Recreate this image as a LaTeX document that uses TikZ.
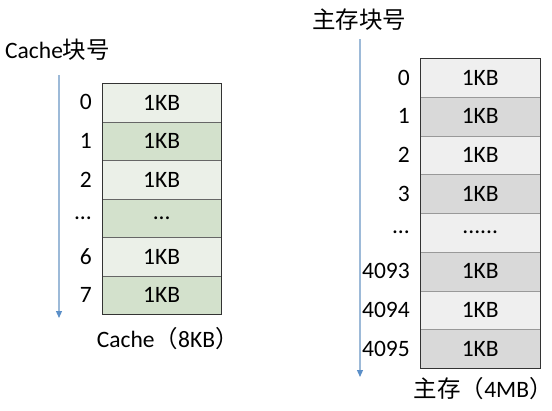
\documentclass[tikz,border=0pt]{standalone}
\usepackage{fontspec}
\setmainfont{Carlito}
\newfontfamily\cjk{Noto Sans CJK SC}
\usetikzlibrary{positioning,arrows.meta}
\definecolor{cachelight}{HTML}{EBF0E8}
\definecolor{cachedark}{HTML}{D3E1CC}
\definecolor{memlight}{HTML}{EFEFEF}
\definecolor{memdark}{HTML}{D9D9D9}
\definecolor{axisblue}{HTML}{9DBAD8}
\definecolor{tipblue}{HTML}{5B8FC8}
\newcommand\blockdots{...}
\newcommand\blockdotslong{......}

\begin{document}
\begin{tikzpicture}[x=1pt,y=-1pt,
    font=\fontsize{23.5}{26}\selectfont,
    cell/.style={draw=black!60, minimum width=119pt, minimum height=38.5pt,
      inner sep=0pt, anchor=north west},
    idx/.style={inner sep=0pt},
    axis/.style={axisblue, line width=1.2pt,
      -{Triangle[length=7pt,width=6pt,color=tipblue]}}]
    \useasboundingbox (0,0) rectangle (552,410);

    % Cache blocks
    \foreach \num/\txt [count=\i] in {0/1KB,1/1KB,2/1KB,\blockdots/\blockdots,6/1KB,7/1KB} {
        \ifodd\i \def\cellcol{cachelight}\else \def\cellcol{cachedark}\fi
        \node[cell, fill=\cellcol] (c\i) at (102,{83+(\i-1)*38.5}) {\txt};
        \node[idx, left=10pt of c\i] (cn\i) {\num};
    }
    \draw[black!80, line width=0.8pt] (c1.north west) rectangle (c6.south east);
    \node[anchor=west, inner sep=0pt] (ctitle) at (5,50) {Cache{\cjk 块号}};
    \node[idx, below=13pt of c6, xshift=6pt] (ccap) {Cache{\cjk （}8KB{\cjk ）}};

    % Cache index axis
    \coordinate (ctop) at (59,75);
    \coordinate (cbot) at (59,318);
    \draw[axis] (ctop) -- (cbot);

    % Main memory blocks
    \foreach \num/\txt [count=\i] in {0/1KB,1/1KB,2/1KB,3/1KB,\blockdots/\blockdotslong,4093/1KB,4094/1KB,4095/1KB} {
        \ifodd\i \def\cellcol{memlight}\else \def\cellcol{memdark}\fi
        \node[cell, draw=black!40, minimum width=120pt, minimum height=38.75pt, fill=\cellcol]
            (m\i) at (420,{58+(\i-1)*38.75}) {\txt};
        \node[idx, left=10pt of m\i] (mn\i) {\num};
    }
    \draw[black!80, line width=0.8pt] (m1.north west) rectangle (m8.south east);
    \node[anchor=west, inner sep=0pt] (mtitle) at (312,20) {\cjk 主存块号};
    \node[idx, below=9pt of m8, xshift=3pt] (mcap) {{\cjk 主存（}4MB{\cjk ）}};

    % Main memory index axis
    \coordinate (mtop) at (360,39);
    \coordinate (mbot) at (360,377);
    \draw[axis] (mtop) -- (mbot);
\end{tikzpicture}
\end{document}
